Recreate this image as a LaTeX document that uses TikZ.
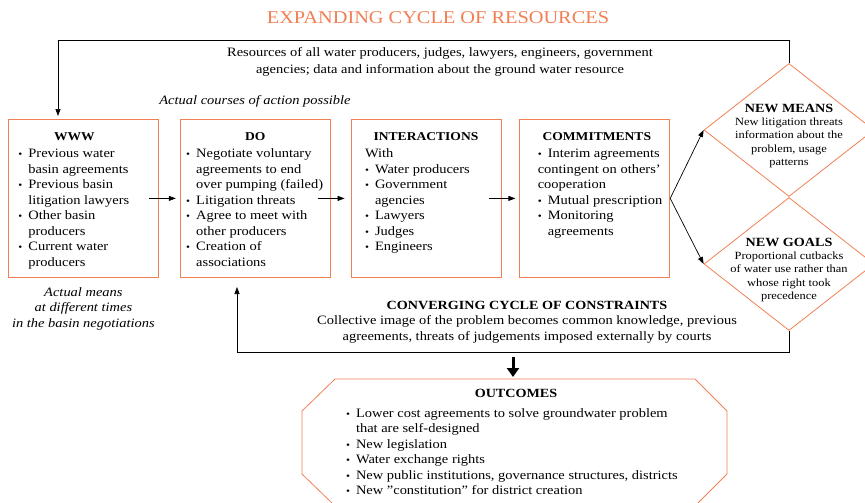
\documentclass[tikz,border=0pt]{standalone}
\usepackage{fontspec}
\setmainfont{Liberation Serif}[FakeStretch=1.13]
\usetikzlibrary{positioning,shapes.geometric,arrows.meta}

\definecolor{orng}{RGB}{240,128,84}
\newcommand{\bul}{\par\hangindent=10pt\hangafter=1\noindent\makebox[10pt][l]{\fontsize{10}{10}\selectfont\textbullet}}
\newcommand{\bulflat}{\par\noindent\makebox[10pt][l]{\fontsize{10}{10}\selectfont\textbullet}}
% #1 shift, #2 width, #3 heading, #4 items
\newcommand{\boxtext}[4]{\hspace*{#1}\begin{minipage}[t][146pt][t]{#2}\vspace*{7pt}{\centering\textbf{\fontsize{12}{15}\selectfont #3}\par}\vspace{2pt}\raggedright\let\\\newline #4\end{minipage}}

\begin{document}
\begin{tikzpicture}[x=1pt,y=-1pt,
  every node/.style={font=\fontsize{12.8}{15.5}\selectfont},
  box/.style={draw=orng,line width=0.8pt,minimum width=150pt,minimum height=158pt,inner sep=0pt},
  dmd/.style={diamond,draw=orng,line width=0.8pt,minimum width=170pt,minimum height=133pt,inner sep=0pt},
  dtext/.style={align=center,font=\fontsize{11}{13.2}\selectfont},
  note/.style={align=center,font=\fontsize{12.8}{15.5}\selectfont\itshape},
  conn/.style={-{Triangle[length=7pt,width=5pt]},line width=0.7pt},
  node distance=20pt]
  \useasboundingbox (0,0) rectangle (865,503);
  \clip (0,0) rectangle (865,503);

  % title and top loop text
  \node[font=\fontsize{18}{20}\selectfont,text=orng] (title) at (438,18) {EXPANDING CYCLE OF RESOURCES};
  \node[align=center,font=\fontsize{12.8}{17}\selectfont] (res) at (440,62) {Resources of all water producers, judges, lawyers, engineers, government\\agencies; data and information about the ground water resource};
  \node[note] (courses) at (255,101) {Actual courses of action possible};

  % the four boxes
  \node[box,anchor=north west] (www) at (8,119) {\boxtext{-18pt}{112pt}{WWW}{%
    \bul Previous water\\basin agreements
    \bul Previous basin\\litigation lawyers
    \bul Other basin\\producers
    \bul Current water\\producers}};
  \node[box,right=21pt of www] (do) {\boxtext{0pt}{138pt}{DO}{%
    \bul Negotiate voluntary\\agreements to end\\over pumping (failed)
    \bul Litigation threats
    \bul Agree to meet with\\other producers
    \bul Creation of\\associations}};
  \node[box,right=20pt of do] (inter) {\boxtext{0pt}{122pt}{INTERACTIONS}{%
    \noindent With
    \bul Water producers
    \bul Government\\agencies
    \bul Lawyers
    \bul Judges
    \bul Engineers}};
  \node[box,right=18pt of inter] (commit) {\boxtext{4pt}{118pt}{COMMITMENTS}{%
    \bulflat \mbox{Interim agreements}\\\mbox{contingent on others'}\\cooperation
    \bul \mbox{Mutual prescription}
    \bul Monitoring\\agreements}};
  \node[note,below=6pt of www] (means0) {Actual means\\at different times\\in the basin negotiations};

  \draw[conn] ([xshift=-10pt]www.east) -- ([xshift=-4pt]do.west);
  \draw[conn] ([xshift=-13pt]do.east) -- ([xshift=-6pt]inter.west);
  \draw[conn] ([xshift=-12pt]inter.east) -- ([xshift=-4pt]commit.west);

  % diamonds
  \node[dmd] (means) at (789,130) {};
  \node[dtext] (meanst) at (789,136) {\textbf{\fontsize{12.5}{15}\selectfont NEW MEANS}\\New litigation threats\\information about the\\problem, usage\\patterns};
  \node[dmd] (goals) at (789,264) {};
  \node[dtext] (goalst) at (789,270) {\textbf{\fontsize{12.5}{15}\selectfont NEW GOALS}\\Proportional cutbacks\\of water use rather than\\whose right took\\precedence};
  \draw[conn] (commit.east) -- (means.west);
  \draw[conn] (commit.east) -- (goals.west);

  % the two loops
  \coordinate (wwwin) at (58,116);
  \coordinate (doin) at (237,287);
  \draw[conn] (means.north) -- ++(0,-23) -| (wwwin);
  \draw[conn] (goals.south) -- ++(0,21) -| (doin);
  \node[align=center,font=\fontsize{12.8}{16}\selectfont] (constr) at (527,322) {\textbf{\fontsize{12.5}{15}\selectfont CONVERGING CYCLE OF CONSTRAINTS}\\[-1pt]Collective image of the problem becomes common knowledge, previous\\agreements, threats of judgements imposed externally by courts};

  % outcomes
  \coordinate (o1) at (335,379);
  \coordinate (o2) at (695,379);
  \coordinate (o3) at (727,411);
  \coordinate (o4) at (727,474);
  \coordinate (o5) at (695,506);
  \coordinate (o6) at (335,506);
  \coordinate (o7) at (302,474);
  \coordinate (o8) at (302,411);
  \draw[orng,line width=0.8pt] (o1) -- (o2) -- (o3) -- (o4) -- (o5) -- (o6) -- (o7) -- (o8) -- cycle;
  \coordinate (cdown) at (513,357);
  \coordinate (otop) at (513,377);
  \draw[line width=3pt,-{Triangle[length=9pt,width=12pt]}] (cdown) -- (otop);
  \node[anchor=north] (outt) at (516,386) {\begin{minipage}{340pt}{\centering\textbf{\fontsize{12.5}{15}\selectfont OUTCOMES}\par}\vspace{4pt}\raggedright\let\\\newline
    \bul Lower cost agreements to solve groundwater problem\\that are self-designed
    \bul New legislation
    \bul Water exchange rights
    \bul New public institutions, governance structures, districts
    \bul New ''constitution'' for district creation\end{minipage}};
\end{tikzpicture}
\end{document}
